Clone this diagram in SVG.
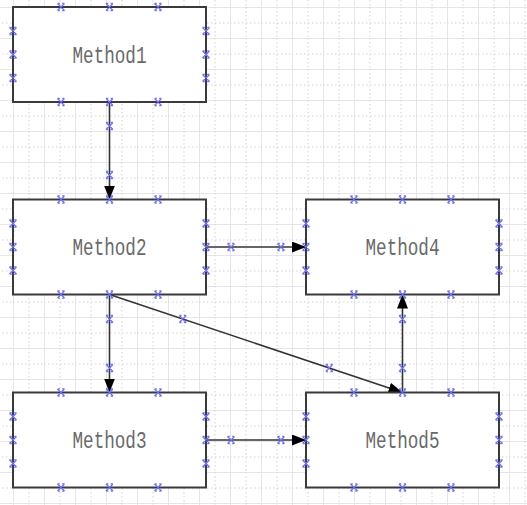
<svg xmlns="http://www.w3.org/2000/svg" width="527" height="505" viewBox="0 0 527 505">
<defs>
<pattern id="grid" x="13" y="7" width="31" height="31" patternUnits="userSpaceOnUse">
<path d="M0.5 0V31M0 0.5H31" stroke="#e6e6e6" stroke-width="1" fill="none"/>
<path d="M16 0V31M0 16H31" stroke="#d2d2d2" stroke-width="1" stroke-dasharray="1.5 2.5" fill="none"/>
</pattern>
<marker id="arr" viewBox="0 0 14 11" refX="14" refY="5.5" markerWidth="14" markerHeight="11" markerUnits="userSpaceOnUse" orient="auto">
<path d="M0 0L14 5.5L0 11Z" fill="#000"/>
</marker>
<g id="x">
<path d="M-3.5 -3.5L3.5 3.5M3.5 -3.5L-3.5 3.5M-3.5 -3.6H-1.2M1.2 -3.6H3.5M-3.5 3.6H-1.2M1.2 3.6H3.5" stroke="#7373f0" stroke-width="1.4" fill="none"/>
</g>
</defs>
<style>
.box{fill:#fff;stroke:#3a3a3a;stroke-width:2}
.lbl{font-family:"Liberation Mono","DejaVu Sans Mono",monospace;font-size:24px;fill:#6a6a6a;text-anchor:middle}
.con{stroke:#333;stroke-width:1.6;fill:none;marker-end:url(#arr)}
</style>
<rect x="0" y="0" width="527" height="505" fill="#fff"/>
<rect x="0" y="0" width="527" height="505" fill="url(#grid)"/>

<g id="connectors">
<path class="con" d="M109.5 102V199.5"/>
<path class="con" d="M206 247H306"/>
<path class="con" d="M109.5 294.5V392.5"/>
<path class="con" d="M109.5 294.5L402.5 392.5"/>
<path class="con" d="M402.5 392.5V294.5"/>
<path class="con" d="M206 440H306"/>
<use href="#x" x="109.5" y="126"/><use href="#x" x="109.5" y="175"/>
<use href="#x" x="231" y="247"/><use href="#x" x="281" y="247"/>
<use href="#x" x="109.5" y="319"/><use href="#x" x="109.5" y="368"/>
<use href="#x" x="182.75" y="319"/><use href="#x" x="329.25" y="368"/>
<use href="#x" x="402.5" y="319"/><use href="#x" x="402.5" y="368"/>
<use href="#x" x="231" y="440"/><use href="#x" x="281" y="440"/>
</g>

<g id="method1" transform="translate(13,7)">
<rect class="box" x="0" y="0" width="193" height="95"/>
<text class="lbl" x="96.5" y="55.5" textLength="74" lengthAdjust="spacingAndGlyphs">Method1</text>
<use href="#x" x="48" y="0"/><use href="#x" x="96.5" y="0"/><use href="#x" x="145" y="0"/>
<use href="#x" x="48" y="95"/><use href="#x" x="96.5" y="95"/><use href="#x" x="145" y="95"/>
<use href="#x" x="0" y="24"/><use href="#x" x="0" y="47.5"/><use href="#x" x="0" y="71"/>
<use href="#x" x="193" y="24"/><use href="#x" x="193" y="47.5"/><use href="#x" x="193" y="71"/>
</g>
<g id="method2" transform="translate(13,199.5)">
<rect class="box" x="0" y="0" width="193" height="95"/>
<text class="lbl" x="96.5" y="55.5" textLength="74" lengthAdjust="spacingAndGlyphs">Method2</text>
<use href="#x" x="48" y="0"/><use href="#x" x="96.5" y="0"/><use href="#x" x="145" y="0"/>
<use href="#x" x="48" y="95"/><use href="#x" x="96.5" y="95"/><use href="#x" x="145" y="95"/>
<use href="#x" x="0" y="24"/><use href="#x" x="0" y="47.5"/><use href="#x" x="0" y="71"/>
<use href="#x" x="193" y="24"/><use href="#x" x="193" y="47.5"/><use href="#x" x="193" y="71"/>
</g>
<g id="method3" transform="translate(13,392.5)">
<rect class="box" x="0" y="0" width="193" height="95"/>
<text class="lbl" x="96.5" y="55.5" textLength="74" lengthAdjust="spacingAndGlyphs">Method3</text>
<use href="#x" x="48" y="0"/><use href="#x" x="96.5" y="0"/><use href="#x" x="145" y="0"/>
<use href="#x" x="48" y="95"/><use href="#x" x="96.5" y="95"/><use href="#x" x="145" y="95"/>
<use href="#x" x="0" y="24"/><use href="#x" x="0" y="47.5"/><use href="#x" x="0" y="71"/>
<use href="#x" x="193" y="24"/><use href="#x" x="193" y="47.5"/><use href="#x" x="193" y="71"/>
</g>
<g id="method4" transform="translate(306,199.5)">
<rect class="box" x="0" y="0" width="193" height="95"/>
<text class="lbl" x="96.5" y="55.5" textLength="74" lengthAdjust="spacingAndGlyphs">Method4</text>
<use href="#x" x="48" y="0"/><use href="#x" x="96.5" y="0"/><use href="#x" x="145" y="0"/>
<use href="#x" x="48" y="95"/><use href="#x" x="96.5" y="95"/><use href="#x" x="145" y="95"/>
<use href="#x" x="0" y="24"/><use href="#x" x="0" y="47.5"/><use href="#x" x="0" y="71"/>
<use href="#x" x="193" y="24"/><use href="#x" x="193" y="47.5"/><use href="#x" x="193" y="71"/>
</g>
<g id="method5" transform="translate(306,392.5)">
<rect class="box" x="0" y="0" width="193" height="95"/>
<text class="lbl" x="96.5" y="55.5" textLength="74" lengthAdjust="spacingAndGlyphs">Method5</text>
<use href="#x" x="48" y="0"/><use href="#x" x="96.5" y="0"/><use href="#x" x="145" y="0"/>
<use href="#x" x="48" y="95"/><use href="#x" x="96.5" y="95"/><use href="#x" x="145" y="95"/>
<use href="#x" x="0" y="24"/><use href="#x" x="0" y="47.5"/><use href="#x" x="0" y="71"/>
<use href="#x" x="193" y="24"/><use href="#x" x="193" y="47.5"/><use href="#x" x="193" y="71"/>
</g>
</svg>
